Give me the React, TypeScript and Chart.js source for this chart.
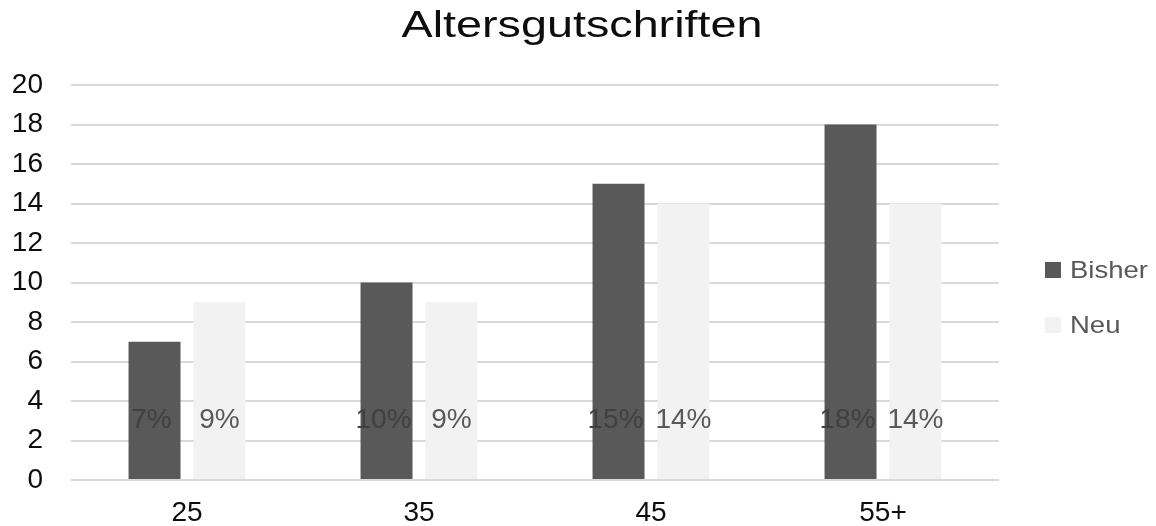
import React, { useEffect, useRef } from "react";
import { Chart, registerables } from "chart.js";

Chart.register(...registerables);

const TITLE = "Altersgutschriften";
const categories = ["25", "35", "45", "55+"];
const seriesNames = ["Bisher", "Neu"];
const bisherValues = [7, 10, 15, 18];
const neuValues = [9, 9, 14, 14];
const bisherLabels = ["7%", "10%", "15%", "18%"];
const neuLabels = ["9%", "9%", "14%", "14%"];
const yMin = 0;
const yMax = 20;
const yStep = 2;

const FONT = "'Liberation Sans', Arial, sans-serif";
const BISHER_COLOR = "#595959";
const NEU_COLOR = "#f2f2f2";
const GRID_COLOR = "#d9d9d9";
const LABEL_LEVEL = 3; // data-value level where the percentage labels sit

const W = 1156;
const H = 526;

const titlePlugin = {
  id: "scaledTitle",
  afterDraw(chart: any) {
    const ctx = chart.ctx;
    ctx.save();
    ctx.font = `36px ${FONT}`;
    ctx.fillStyle = "#0d0d0d";
    ctx.textBaseline = "alphabetic";
    ctx.textAlign = "left";
    const w = ctx.measureText(TITLE).width;
    const targetW = 361;
    const sx = targetW / w;
    const cx = 582;
    ctx.translate(cx - targetW / 2, 37);
    ctx.scale(sx, 1);
    ctx.fillText(TITLE, 0, 0);
    ctx.restore();
  },
};

const legendPlugin = {
  id: "customLegend",
  afterDraw(chart: any) {
    const ctx = chart.ctx;
    ctx.save();
    ctx.font = `24px ${FONT}`;
    ctx.textBaseline = "alphabetic";
    ctx.textAlign = "left";
    const sx = 78 / ctx.measureText(seriesNames[0]).width;
    chart.data.datasets.forEach((ds: any, i: number) => {
      const cy = 270 + i * 55;
      ctx.fillStyle = ds.backgroundColor;
      ctx.fillRect(1045, cy - 8, 16, 16);
      ctx.fillStyle = "#595959";
      ctx.save();
      ctx.translate(1070, cy + 8);
      ctx.scale(sx, 1);
      ctx.fillText(ds.label, 0, 0);
      ctx.restore();
    });
    ctx.restore();
  },
};

const dataLabelPlugin = {
  id: "pctLabels",
  afterDatasetsDraw(chart: any) {
    const ctx = chart.ctx;
    const yScale = chart.scales.y;
    const allLabels = [bisherLabels, neuLabels];
    const colors = ["#404040", "#595959"];
    ctx.save();
    ctx.font = `28px ${FONT}`;
    ctx.textAlign = "center";
    ctx.textBaseline = "middle";
    chart.data.datasets.forEach((_ds: any, di: number) => {
      const meta = chart.getDatasetMeta(di);
      ctx.fillStyle = colors[di];
      meta.data.forEach((bar: any, i: number) => {
        ctx.fillText(allLabels[di][i], bar.x - (di === 0 ? 3 : 0), yScale.getPixelForValue(LABEL_LEVEL));
      });
    });
    ctx.restore();
  },
};

export default function App() {
  const ref = useRef<HTMLCanvasElement | null>(null);

  useEffect(() => {
    if (!ref.current) return;
    const chart = new Chart(ref.current, {
      type: "bar",
      data: {
        labels: categories,
        datasets: [
          {
            label: seriesNames[0],
            data: bisherValues,
            backgroundColor: BISHER_COLOR,
            categoryPercentage: 0.56,
            barPercentage: 0.8,
          },
          {
            label: seriesNames[1],
            data: neuValues,
            backgroundColor: NEU_COLOR,
            categoryPercentage: 0.56,
            barPercentage: 0.8,
          },
        ],
      },
      options: {
        responsive: false,
        animation: false,
        layout: { padding: { top: 85, right: 157, bottom: 0, left: 0 } },
        plugins: {
          legend: { display: false },
          title: { display: false },
          tooltip: { enabled: false },
        },
        scales: {
          x: {
            grid: { display: false, drawTicks: false },
            border: { display: false },
            ticks: {
              font: { family: FONT, size: 28 },
              color: "#0d0d0d",
              padding: 16,
            },
            afterFit: (s: any) => {
              s.height = 46;
            },
          },
          y: {
            min: yMin,
            max: yMax,
            grid: { color: GRID_COLOR, lineWidth: 2, drawTicks: false },
            border: { display: false },
            ticks: {
              stepSize: yStep,
              font: { family: FONT, size: 28 },
              color: "#0d0d0d",
              padding: 28,
            },
            afterFit: (s: any) => {
              s.width = 71;
            },
          },
        },
      },
      plugins: [dataLabelPlugin, titlePlugin, legendPlugin],
    });
    return () => chart.destroy();
  }, []);

  return (
    <div style={{ position: "absolute", left: 0, top: 0, width: W, height: H, background: "#fff" }}>
      <canvas ref={ref} width={W} height={H} style={{ display: "block" }} />
    </div>
  );
}
